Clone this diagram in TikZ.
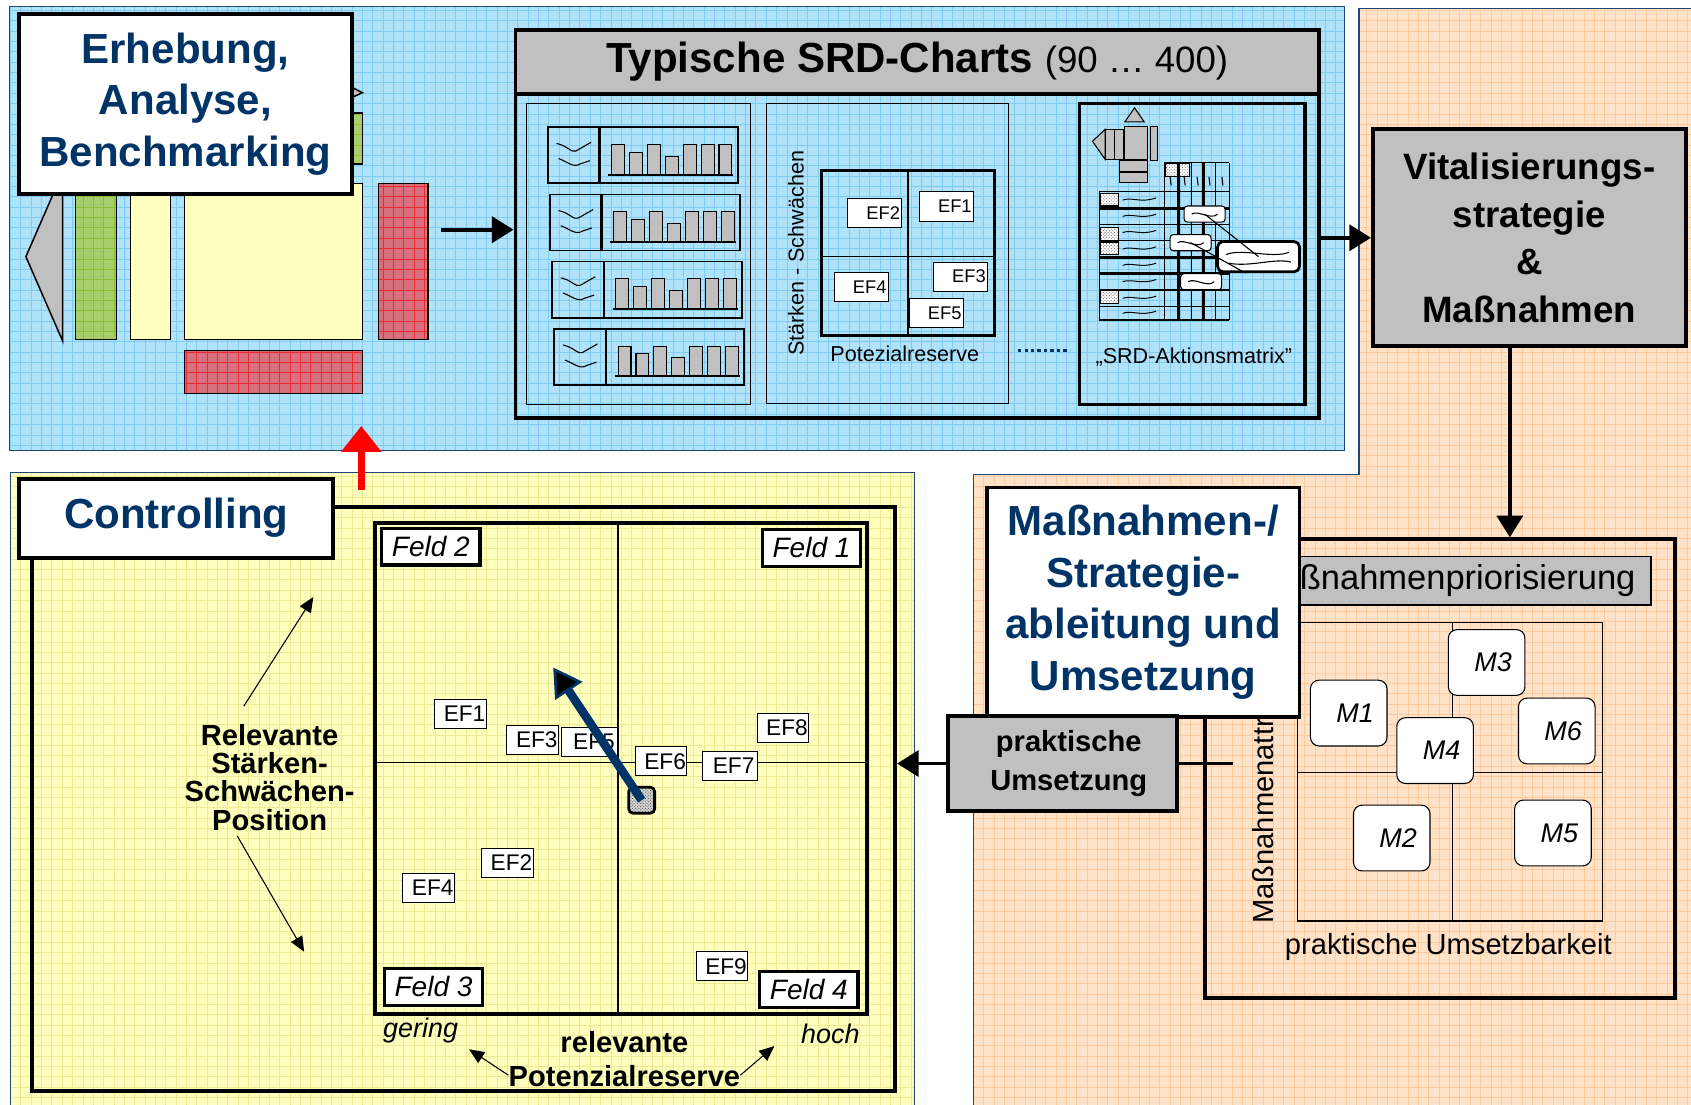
\documentclass[tikz,border=0pt]{standalone}
\usepackage{fontspec}
\setmainfont{Liberation Sans}
\usetikzlibrary{arrows.meta,patterns}

\definecolor{navy}{RGB}{0,51,102}
\definecolor{rim}{RGB}{30,70,120}
\definecolor{skyfill}{RGB}{176,226,250}
\definecolor{skygrid}{RGB}{128,204,240}
\definecolor{creamfill}{RGB}{255,255,190}
\definecolor{creamgrid}{RGB}{238,234,150}
\definecolor{peachfill}{RGB}{255,226,200}
\definecolor{peachgrid}{RGB}{255,202,158}
\definecolor{boxgray}{RGB}{192,192,192}
\definecolor{barred}{RGB}{214,112,124}
\definecolor{redline}{RGB}{236,40,50}
\definecolor{bargreen}{RGB}{166,206,108}
\definecolor{greenline}{RGB}{140,190,50}

\newcommand{\setfs}[2]{\fontsize{#1}{#2}\selectfont}

\begin{document}
\begin{tikzpicture}[x=1pt,y=-1pt,
    cells/.style={path picture={\draw[#1,line width=0.6pt,step=9.6pt]
      (path picture bounding box.south west) grid (path picture bounding box.north east);}},
    panel/.style={draw=rim,line width=1.2pt},
    heavy/.style={draw,line width=3.6pt,inner sep=0pt},
    headbox/.style={heavy,fill=white,text=navy,font=\bfseries\setfs{39}{48},align=center},
    greybox/.style={heavy,fill=boxgray,align=center},
    efbig/.style={draw,fill=white,line width=0.9pt,inner sep=0pt,minimum width=48pt,
      minimum height=27pt,text width=46pt,align=right,font=\setfs{21}{21}},
    efsmall/.style={draw,fill=white,line width=0.9pt,inner sep=0pt,minimum width=50pt,
      minimum height=27pt,text width=47pt,align=right,font=\setfs{17}{17}},
    feld/.style={draw,fill=white,line width=3pt,inner sep=0pt,minimum width=91pt,
      minimum height=34pt,font=\itshape\setfs{26}{26}},
    mbox/.style={draw,fill=white,line width=1pt,inner sep=0pt,minimum width=71pt,
      minimum height=61pt,rounded corners=8pt,font=\itshape\setfs{25}{25}},
    note/.style={draw,fill=white,line width=1pt,inner sep=0pt,rounded corners=3pt,
      minimum width=38pt,minimum height=15pt},
    arr/.style={line width=3.6pt,-{Triangle[length=20pt,width=24pt]}},
    pointer/.style={line width=1pt,-{Triangle[length=14pt,width=12pt]}},
  ]
  \useasboundingbox (0,0) rectangle (1568,1024);
  \fill[white] (0,0) rectangle (1568,1024);

  % background panels
  \path[panel,fill=skyfill,cells=skygrid] (9,6) rectangle (1247,418);
  \path[panel,fill=creamfill,cells=creamgrid] (10,438) rectangle (848,1030);
  \path[panel,fill=peachfill,cells=peachgrid] (1260,8) -- (1575,8) -- (1575,1030)
    -- (903,1030) -- (903,440) -- (1260,440) -- cycle;

  % data collection blocks
  \draw[line width=1.4pt,fill=boxgray] (58,160) -- (24,238) -- (58,316) -- cycle
    (305,70) -- (336,86) -- (305,100) -- cycle;
  \draw[line width=1.4pt,fill=bargreen,cells=greenline] (70,120) rectangle (108,315);
  \draw[line width=1.4pt,fill=bargreen,cells=greenline] (300,105) rectangle (336,152);
  \draw[line width=1.4pt,fill=creamfill] (121,150) rectangle (158,315) (171,170) rectangle (336,315);
  \draw[line width=1.4pt,fill=barred,cells=redline] (351,170) rectangle (397,315);
  \draw[line width=1.4pt,fill=barred,cells=redline] (171,325) rectangle (336,365);
  \node[headbox,minimum width=308pt,minimum height=167pt] (erheb) at (172,96.5)
    {Erhebung,\\Analyse,\\Benchmarking};

  % chart collection
  \node[heavy,minimum width=745pt,minimum height=360pt] (srd) at (850.5,208) {};
  \node[heavy,fill=boxgray,minimum width=745pt,minimum height=59pt,anchor=north] (srdhead) at (srd.north)
    {\setfs{39}{39}\textbf{Typische SRD-Charts} \setfs{34}{34}(90 … 400)};
  \coordinate (feed) at (409,213);
  \draw[arr] (feed) -- (feed -| srd.west);

  \draw[line width=1.3pt] (488,96) rectangle (696,375) (711,96) rectangle (935,374);
  \foreach \i in {0,...,3}{
    \begin{scope}[shift={(508+2*\i,118+62.3*\i)}]
      \draw[line width=1.6pt] (0,0) rectangle (176,52);
      \draw[line width=2.6pt] (48,0) -- (48,52);
      \draw[line width=1pt] (8,15) .. controls (18,17) and (22,24) .. (26,22) -- (40,14)
        (10,29) .. controls (18,32) and (24,38) .. (30,34) -- (39,31);
      \foreach \h [count=\k] in {28,21,28,17,28,28,28}
        \draw[fill=boxgray,line width=1pt] (42.5+16.6*\k,44) rectangle ++(12,-\h);
      \draw[line width=1.6pt] (56,44) -- (172,44);
    \end{scope}
  }

  \node[rotate=90,font=\setfs{20}{20}] (stsw) at (738,235) {Stärken - Schwächen};
  \draw[line width=3pt] (762,158) rectangle (922,311);
  \draw[line width=1.2pt] (842,158) -- (842,311) (762,238) -- (922,238);
  \node[efsmall] (sef2) at (811,197.5) {EF2};
  \node[efsmall] (sef1) at (877.5,191.5) {EF1};
  \node[efsmall] (sef4) at (798.5,266.5) {EF4};
  \node[efsmall] (sef3) at (890.5,256.5) {EF3};
  \node[efsmall] (sef5) at (868,290.5) {EF5};
  \node[font=\setfs{20}{20}] (potez) at (839,328) {Potezialreserve};
  \draw[navy,line width=3pt,dash pattern=on 3pt off 3pt] (944,325) -- (992,325);

  % action matrix sketch
  \node[heavy,line width=3pt,minimum width=209pt,minimum height=279pt] (aktion) at (1105.5,235.5) {};
  \begin{scope}[line width=1pt]
    \draw[fill=boxgray] (1043,113) -- (1052,100) -- (1061,113) -- cycle
      (1024.7,120) -- (1013,131) -- (1024.7,147.7) -- cycle;
    \draw[fill=boxgray] (1024.7,120) rectangle (1033,147.7) (1033,120) rectangle (1041.7,147.7)
      (1042.6,117.5) rectangle (1063.9,147.7) (1066.4,117.5) rectangle (1073.2,149)
      (1037.9,149) rectangle (1063.9,158.6) (1037.9,160.1) rectangle (1063.9,169.4);
    \foreach \x in {1079.4,1092.7,1104.4,1115.9,1126.7,1140}
      \draw (\x,150.8) -- (\x,296.7);
    \foreach \y in {177.7,193.2,208,223.2,238.6,253.5,268.9,284.4,296.7}
      \draw (1019.4,\y) -- (1140,\y);
    \draw (1019.4,177.7) -- (1019.4,296.7) (1079.4,150.8) -- (1140,150.8);
    \draw[line width=2.2pt] (1092.7,150.8) -- (1092.7,296.7) (1115.9,150.8) -- (1115.9,296.7)
      (1019.4,193.2) -- (1140,193.2) (1019.4,238.6) -- (1140,238.6) (1019.4,253.5) -- (1140,253.5);
    \foreach \a/\b/\w in {1080.5/152/11,1094/152/9,1020/179/17,1020/211/17,1020/224.4/17,1020/269/17}
      \draw[preaction={fill=white},pattern=crosshatch dots,pattern color=black!60] (\a,\b) rectangle ++(\w,12);
    \foreach \x in {1085,1098,1110,1121,1133}
      \draw (\x,164) -- (\x+1,172);
    \foreach \y in {185.5,200.6,215.6,230.9,246,261.2,276.6,290.5}
      \draw[line width=0.9pt] (1041,\y) .. controls (1050,\y-3) and (1058,\y+3) .. (1072,\y-2);
    \node[note] (note1) at (1117,198.5) {};
    \node[note] (note2) at (1104,225) {};
    \node[note] (note3) at (1113.8,261.2) {};
    \node[note,line width=2.5pt,rounded corners=5pt,minimum width=76pt,minimum height=28pt] (summary) at (1167,238) {};
    \draw (note1.center) -- (summary.center) (note2.center) -- ([xshift=-12pt]summary.south);
    \foreach \n in {note1,note2,note3}
      \draw ([xshift=-12pt]\n.center) .. controls +(6,-4) and +(-6,6) .. ([xshift=12pt]\n.center);
    \draw ([xshift=-30pt,yshift=2pt]summary.center) .. controls +(15,-6) and +(-15,6) .. ([xshift=28pt,yshift=4pt]summary.center)
      ([xshift=-28pt,yshift=-6pt]summary.center) .. controls +(20,4) and +(-15,-4) .. ([xshift=30pt,yshift=-5pt]summary.center);
  \end{scope}
  \node[font=\setfs{20}{20}] (aklabel) at (1107,331) {„SRD-Aktionsmatrix"};

  % strategy
  \node[greybox,font=\bfseries\setfs{34}{44},minimum width=290pt,minimum height=201pt] (vital) at (1418,220.5)
    {Vitalisierungs-\\strategie\\\&\\Maßnahmen};
  \draw[arr] (srd.east |- vital.west) -- (vital.west);

  % measures
  \node[heavy,minimum width=436pt,minimum height=425pt] (mframe) at (1335,712.5) {};
  \draw[arr] ([xshift=-18pt]vital.south) -- ([xshift=-18pt]vital.south |- mframe.north);
  \node[draw,line width=1.5pt,fill=boxgray,inner sep=0pt,minimum width=391pt,minimum height=45pt,
    text width=362pt,align=right,font=\setfs{32}{32}] (prio) at (1335.5,538.5) {Maßnahmenpriorisierung};
  \draw[line width=1.3pt] (1203,577) rectangle (1486,854) (1346.6,577) -- (1346.6,854) (1203,716.5) -- (1486,716.5);
  \node[rotate=90,anchor=west,font=\setfs{27}{27}] (attrakt) at (1171,860) {Maßnahmenattraktivität};
  \node[font=\setfs{27}{27}] (umsb) at (1343,878) {praktische Umsetzbarkeit};
  \node[mbox] (m1) at (1250.6,661.2) {\hspace{12pt}M1};
  \node[mbox] (m3) at (1378.5,614.3) {\hspace{12pt}M3};
  \node[mbox] (m4) at (1330.7,696) {\hspace{12pt}M4};
  \node[mbox] (m6) at (1443.5,677.8) {\hspace{12pt}M6};
  \node[mbox] (m2) at (1290.5,777.1) {\hspace{12pt}M2};
  \node[mbox] (m5) at (1440,772.4) {\hspace{12pt}M5};
  \node[headbox,minimum width=290pt,minimum height=213pt] (strat) at (1060,558.5)
    {Maßnahmen-/\\Strategie-\\ableitung und\\Umsetzung};
  \node[greybox,font=\bfseries\setfs{27}{36},minimum width=212pt,minimum height=88pt] (prakt) at (985,708)
    {\hspace*{12pt}praktische\\\hspace*{12pt}Umsetzung};
  \coordinate (tie) at (1143,708);
  \draw[line width=3.6pt] (prakt.east) -- (tie);

  % controlling
  \node[heavy,minimum width=800pt,minimum height=542pt] (cframe) at (430,741) {};
  \draw[arr] (prakt.west) -- (prakt.west -| cframe.east);
  \node[headbox,minimum width=291pt,minimum height=73pt] (ctitle) at (163.5,480.5) {Controlling};
  \coordinate (backlink) at (335,454);
  \draw[red,line width=7pt,-{Triangle[length=24pt,width=36pt]}] (backlink) -- ++(0,-59);

  \node[font=\bfseries\setfs{27}{26},align=center,inner sep=0pt] (relpos) at (250,721)
    {Relevante\\Stärken-\\Schwächen-\\Position};
  \draw[pointer] (relpos.north) ++(-24,-17) -- (290.6,553.6);
  \draw[pointer] (relpos.south) ++(-30,5) -- (282,882.5);

  \node[heavy,minimum width=456pt,minimum height=455pt] (quad) at (576,712.5) {};
  \draw[line width=1.2pt] (573,485) -- (573,940) (348,707) -- (804,707);
  \node[feld] (f2) at (399.5,507) {Feld 2};
  \node[feld] (f1) at (752.5,508) {Feld 1};
  \node[feld] (f3) at (402,915) {Feld 3};
  \node[feld] (f4) at (750,917.5) {Feld 4};
  \node[efbig] (ef1) at (427,662) {EF1};
  \node[efbig] (ef3) at (494,686) {EF3};
  \node[efbig,minimum width=52pt] (ef5) at (547,688) {EF5};
  \node[efbig] (ef6) at (613,706) {EF6};
  \node[efbig,minimum width=51pt] (ef7) at (676.5,710) {EF7};
  \node[efbig] (ef8) at (726,675) {EF8};
  \node[efbig] (ef2) at (470.5,800) {EF2};
  \node[efbig] (ef4) at (397.5,823) {EF4};
  \node[efbig] (ef9) at (669.5,896) {EF9};
  \node[draw,line width=2.6pt,rounded corners=4pt,minimum size=24pt,inner sep=0pt,
    preaction={fill=gray!35},pattern=crosshatch dots,pattern color=black!70] (dot) at (595,742) {};
  \coordinate (aim) at (513,619);
  \draw[navy,line width=8pt,-{Triangle[length=26pt,width=30pt,fill=black,line width=2.5pt]}] (dot.center) -- (aim);

  \node[font=\itshape\setfs{25}{25}] (gering) at (390,956) {gering};
  \node[font=\itshape\setfs{25}{25}] (hoch) at (770,959) {hoch};
  \node[font=\bfseries\setfs{27}{32},align=center,inner sep=0pt] (potres) at (579,982)
    {relevante\\Potenzialreserve};
  \coordinate (lowend) at (435,973);
  \coordinate (highend) at (718,970);
  \draw[pointer] ([yshift=-15pt]potres.west) -- (lowend);
  \draw[pointer] ([yshift=-15pt]potres.east) -- (highend);
\end{tikzpicture}
\end{document}
